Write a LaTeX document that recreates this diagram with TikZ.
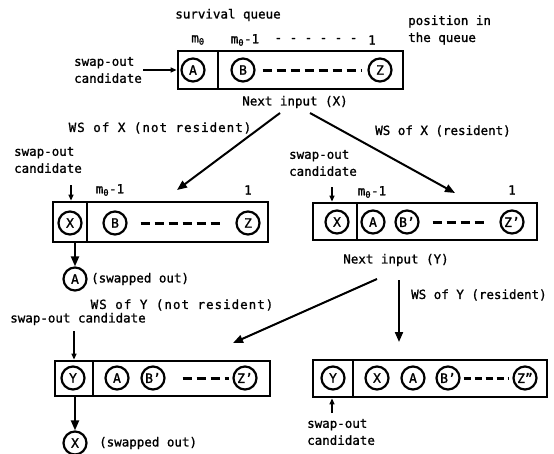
\documentclass[tikz,border=0pt]{standalone}
\usepackage{fontspec}
\setmainfont{DejaVu Sans Mono}[FakeBold=1.2]
\newfontfamily\widefont{DejaVu Sans Mono}[FakeBold=1.2, LetterSpace=8]
\usetikzlibrary{arrows.meta,calc}

\tikzset{
  qbox/.style={draw, line width=2.8pt, inner sep=0pt},
  page/.style={circle, draw, line width=2.2pt, minimum size=23pt, inner sep=0pt, font=\fontsize{13}{15}\selectfont},
  gap/.style={line width=3pt, dash pattern=on 9pt off 5pt},
  flow/.style={-{Triangle[length=10pt,width=8pt]}, line width=2pt},
  hint/.style={-{Triangle[length=6pt,width=5pt]}, line width=1.4pt},
  txt/.style={font=\fontsize{12.5}{17}\selectfont, inner sep=1pt},
  wslabel/.style={font=\widefont\fontsize{12.5}{17}\selectfont}
}

\begin{document}
\begin{tikzpicture}[x=1pt, y=-1pt, every node/.style={txt}]
  \useasboundingbox (0,0) rectangle (554,453);

  % first queue
  \node[qbox, minimum width=40pt, minimum height=38pt] (t0) at (198,70) {};
  \node[qbox, minimum width=185pt, minimum height=38pt] (t1) at (310.5,70) {};
  \node[page] (ta) at (193,70) {A};
  \node[page] (tb) at (243,70) {B};
  \node[page] (tz) at (380,70) {Z};
  \draw[gap, shorten <=7pt, shorten >=6pt] (tb) -- (tz);

  \node (tq) at (228,15) {survival queue};
  \node (tm0) at (198,40) {m\textsubscript{0}};
  \node (tm1) at (245,40) {m\textsubscript{0}-1};
  \node (tdots) at (316,40) {- - - - - -};
  \node (tone) at (372,40) {1};
  \node[anchor=west, align=left] (tpos) at (407,30) {position in\\the queue};
  \node[align=left] (tsc) at (108,70) {swap-out\\candidate};
  \draw[hint] (tsc.east) -- (t0.west);
  \node (nx) at (295,102) {Next input (X)};

  % WS of X
  \coordinate (xl0) at (280,113);
  \coordinate (xl1) at (177,190);
  \coordinate (xr0) at (310,113);
  \coordinate (xr1) at (455,193);
  \draw[flow] (xl0) -- (xl1);
  \draw[flow] (xr0) -- (xr1);
  \node[wslabel] (wsxn) at (160,128) {WS of X (not resident)};
  \node (wsxr) at (443,131) {WS of X (resident)};

  % not resident
  \node[qbox, minimum width=34pt, minimum height=40pt] (l0) at (70,222) {};
  \node[qbox, minimum width=181pt, minimum height=40pt] (l1) at (177.5,222) {};
  \node[page] (lx) at (70,223) {X};
  \node[page] (lb) at (115,223) {B};
  \node[page] (lz) at (248,223) {Z};
  \draw[gap, shorten <=13pt, shorten >=14pt] (lb) -- (lz);
  \node[align=left] (lsc) at (48,160) {swap-out\\candidate};
  \coordinate (lsa) at (71,185);
  \draw[hint] (lsa) -- (lsa |- l0.north);
  \node (lm1) at (110,190) {m\textsubscript{0}-1};
  \node (lone) at (248,190) {1};
  \node[page] (la) at (75,279) {A};
  \draw[flow] (la |- l0.south) -- (la);
  \node[anchor=west] (lout) at (90,279) {(swapped out)};

  % resident
  \node[qbox, minimum width=44pt, minimum height=37pt] (r0) at (335,221.5) {};
  \node[qbox, minimum width=180pt, minimum height=37pt] (r1) at (447,221.5) {};
  \node[page] (rx) at (337,222) {X};
  \node[page] (ra) at (373,222) {A};
  \node[page] (rb) at (407,222) {B'};
  \node[page] (rz) at (512,222) {Z'};
  \draw[gap, shorten <=13pt, shorten >=12pt] (rb) -- (rz);
  \node[align=left] (rsc) at (323,163) {swap-out\\candidate};
  \coordinate (rsa) at (332,187);
  \draw[hint] (rsa) -- (rsa |- r0.north);
  \node (rm1) at (372,192) {m\textsubscript{0}-1};
  \node (rone) at (512,190) {1};
  \node (ny) at (396,260) {Next input (Y)};

  % WS of Y
  \coordinate (yl0) at (377,279);
  \coordinate (yl1) at (233,343);
  \coordinate (yr0) at (399,280);
  \coordinate (yr1) at (399,342);
  \draw[flow] (yl0) -- (yl1);
  \draw[flow] (yr0) -- (yr1);
  \node[wslabel] (wsyn) at (182,305) {WS of Y (not resident)};
  \node[anchor=west] (wsyr) at (410,295) {WS of Y (resident)};

  % Y not resident
  \node[qbox, minimum width=38pt, minimum height=35pt] (bl0) at (74,378.5) {};
  \node[qbox, minimum width=177pt, minimum height=35pt] (bl1) at (181.5,378.5) {};
  \node[page] (bly) at (73,378) {Y};
  \node[page] (bla) at (117,378) {A};
  \node[page] (blb) at (153,378) {B'};
  \node[page] (blz) at (245,378) {Z'};
  \draw[gap, shorten <=17pt, shorten >=3pt] (blb) -- (blz);
  \node (blsc) at (78,319) {swap-out candidate};
  \coordinate (blsa) at (74,331);
  \draw[hint] (blsa) -- (blsa |- bl0.north);
  \node[page] (blx) at (75,443) {X};
  \draw[flow] (blx |- bl0.south) -- (blx);
  \node[anchor=west] (blout) at (98,443) {(swapped out)};

  % Y resident
  \node[qbox, minimum width=40pt, minimum height=37pt] (br0) at (333,378.5) {};
  \node[qbox, minimum width=194pt, minimum height=37pt] (br1) at (450,378.5) {};
  \node[page] (bry) at (333,378) {Y};
  \node[page] (brx) at (377,378) {X};
  \node[page] (bra) at (413,378) {A};
  \node[page] (brb) at (448,378) {B'};
  \node[page] (brz) at (525,378) {Z''};
  \draw[gap, dash pattern=on 7pt off 4pt, shorten <=3pt, shorten >=3pt] (brb) -- (brz);
  \coordinate (brsa) at (332,413);
  \draw[hint] (brsa) -- (brsa |- br0.south);
  \node[anchor=west, align=left] (brsc) at (306,432) {swap-out\\candidate};

\end{tikzpicture}
\end{document}
